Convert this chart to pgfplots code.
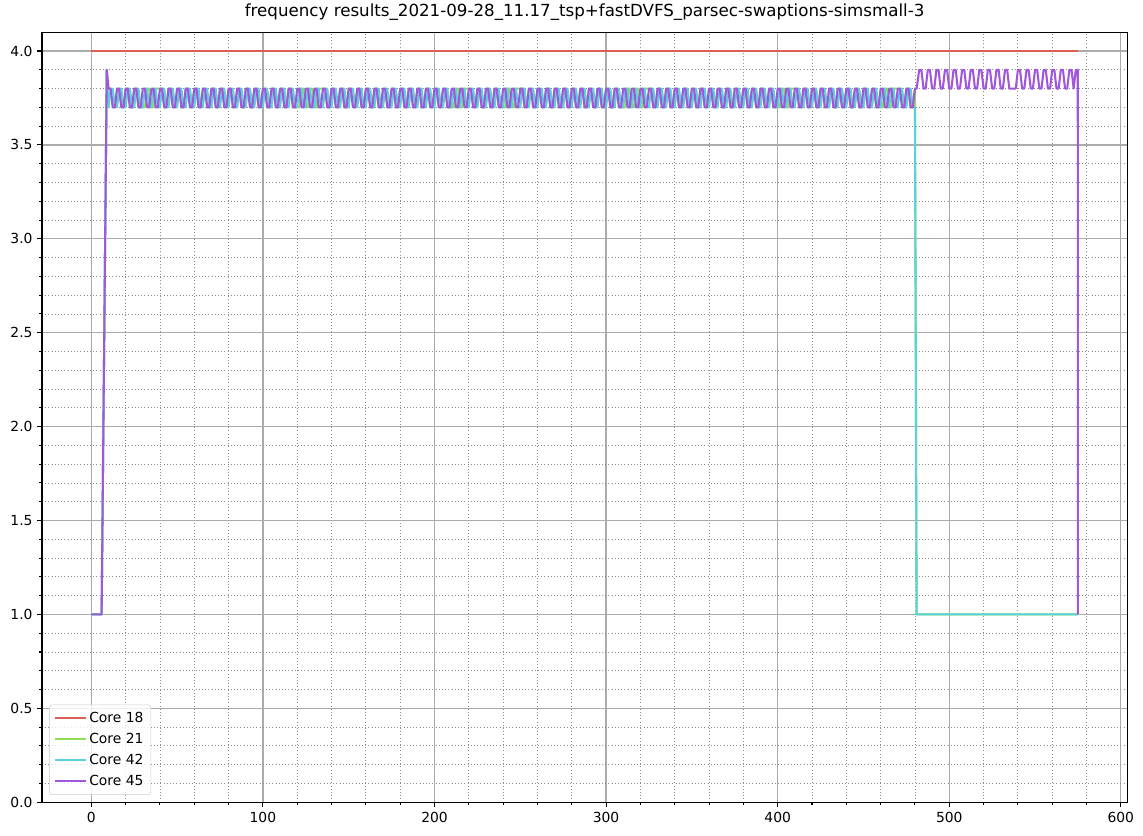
\documentclass[border=0pt]{standalone}
\usepackage{pgfplots}
\pgfplotsset{compat=1.18}
\usepackage{pgfplotstable}
\usepackage{fontspec}
\setmainfont{DejaVu Sans}
\definecolor{c18}{rgb}{0.859,0.373,0.341}
\definecolor{c21}{rgb}{0.573,0.859,0.341}
\definecolor{c42}{rgb}{0.341,0.827,0.859}
\definecolor{c45}{rgb}{0.631,0.341,0.859}
\pgfplotstableread{
x c21 c42 c45
0 1.0 1.0 1.0
6 1.0 1.0 1.0
9 3.9 3.9 3.9
10 3.8 3.7 3.8
11.25 3.8 3.8 3.8
12.5 3.7 3.8 3.7
13.75 3.7 3.7 3.7
15 3.8 3.7 3.8
16.25 3.8 3.8 3.8
17.5 3.7 3.8 3.7
18.75 3.7 3.7 3.7
20 3.8 3.7 3.8
21.25 3.8 3.8 3.8
22.5 3.7 3.8 3.7
23.75 3.7 3.7 3.7
25 3.8 3.7 3.8
26.25 3.8 3.8 3.8
27.5 3.7 3.8 3.7
28.75 3.7 3.7 3.7
30 3.7 3.7 3.8
31.25 3.7 3.8 3.8
32.5 3.8 3.8 3.7
33.75 3.8 3.7 3.7
35 3.7 3.7 3.8
36.25 3.7 3.8 3.8
37.5 3.8 3.8 3.7
38.75 3.8 3.7 3.7
40 3.8 3.7 3.8
41.25 3.8 3.8 3.8
42.5 3.7 3.8 3.7
43.75 3.7 3.7 3.7
45 3.8 3.7 3.8
46.25 3.8 3.8 3.8
47.5 3.7 3.8 3.7
48.75 3.7 3.7 3.7
50 3.8 3.7 3.8
51.25 3.8 3.8 3.8
52.5 3.7 3.8 3.7
53.75 3.7 3.7 3.7
55 3.8 3.7 3.8
56.25 3.8 3.8 3.8
57.5 3.7 3.8 3.7
58.75 3.7 3.7 3.7
60 3.8 3.7 3.8
61.25 3.8 3.8 3.8
62.5 3.7 3.8 3.7
63.75 3.7 3.7 3.7
65 3.8 3.7 3.8
66.25 3.8 3.8 3.8
67.5 3.7 3.8 3.7
68.75 3.7 3.7 3.7
70 3.8 3.7 3.8
71.25 3.8 3.8 3.8
72.5 3.7 3.8 3.7
73.75 3.7 3.7 3.7
75 3.8 3.7 3.8
76.25 3.8 3.8 3.8
77.5 3.7 3.8 3.7
78.75 3.7 3.7 3.7
80 3.8 3.7 3.8
81.25 3.8 3.8 3.8
82.5 3.7 3.8 3.7
83.75 3.7 3.7 3.7
85 3.8 3.7 3.8
86.25 3.8 3.8 3.8
87.5 3.7 3.8 3.7
88.75 3.7 3.7 3.7
90 3.8 3.7 3.8
91.25 3.8 3.8 3.8
92.5 3.7 3.8 3.7
93.75 3.7 3.7 3.7
95 3.8 3.7 3.8
96.25 3.8 3.8 3.8
97.5 3.7 3.8 3.7
98.75 3.7 3.7 3.7
100 3.8 3.7 3.8
101.25 3.8 3.8 3.8
102.5 3.7 3.8 3.7
103.75 3.7 3.7 3.7
105 3.8 3.7 3.8
106.25 3.8 3.8 3.8
107.5 3.7 3.8 3.7
108.75 3.7 3.7 3.7
110 3.8 3.7 3.8
111.25 3.8 3.8 3.8
112.5 3.7 3.8 3.7
113.75 3.7 3.7 3.7
115 3.8 3.7 3.8
116.25 3.8 3.8 3.8
117.5 3.7 3.8 3.7
118.75 3.7 3.7 3.7
120 3.7 3.7 3.8
121.25 3.7 3.8 3.8
122.5 3.8 3.8 3.7
123.75 3.8 3.7 3.7
125 3.7 3.7 3.8
126.25 3.7 3.8 3.8
127.5 3.8 3.8 3.7
128.75 3.8 3.7 3.7
130 3.7 3.7 3.8
131.25 3.7 3.8 3.8
132.5 3.8 3.8 3.7
133.75 3.8 3.7 3.7
135 3.8 3.7 3.8
136.25 3.8 3.8 3.8
137.5 3.7 3.8 3.7
138.75 3.7 3.7 3.7
140 3.8 3.7 3.8
141.25 3.8 3.8 3.8
142.5 3.7 3.8 3.7
143.75 3.7 3.7 3.7
145 3.8 3.7 3.8
146.25 3.8 3.8 3.8
147.5 3.7 3.8 3.7
148.75 3.7 3.7 3.7
150 3.8 3.7 3.8
151.25 3.8 3.8 3.8
152.5 3.7 3.8 3.7
153.75 3.7 3.7 3.7
155 3.8 3.7 3.8
156.25 3.8 3.8 3.8
157.5 3.7 3.8 3.7
158.75 3.7 3.7 3.7
160 3.8 3.7 3.8
161.25 3.8 3.8 3.8
162.5 3.7 3.8 3.7
163.75 3.7 3.7 3.7
165 3.8 3.7 3.8
166.25 3.8 3.8 3.8
167.5 3.7 3.8 3.7
168.75 3.7 3.7 3.7
170 3.8 3.7 3.8
171.25 3.8 3.8 3.8
172.5 3.7 3.8 3.7
173.75 3.7 3.7 3.7
175 3.8 3.7 3.8
176.25 3.8 3.8 3.8
177.5 3.7 3.8 3.7
178.75 3.7 3.7 3.7
180 3.8 3.7 3.8
181.25 3.8 3.8 3.8
182.5 3.7 3.8 3.7
183.75 3.7 3.7 3.7
185 3.8 3.7 3.8
186.25 3.8 3.8 3.8
187.5 3.7 3.8 3.7
188.75 3.7 3.7 3.7
190 3.8 3.7 3.8
191.25 3.8 3.8 3.8
192.5 3.7 3.8 3.7
193.75 3.7 3.7 3.7
195 3.8 3.7 3.8
196.25 3.8 3.8 3.8
197.5 3.7 3.8 3.7
198.75 3.7 3.7 3.7
200 3.8 3.7 3.8
201.25 3.8 3.8 3.8
202.5 3.7 3.8 3.7
203.75 3.7 3.7 3.7
205 3.8 3.7 3.8
206.25 3.8 3.8 3.8
207.5 3.7 3.8 3.7
208.75 3.7 3.7 3.7
210 3.7 3.7 3.8
211.25 3.7 3.8 3.8
212.5 3.8 3.8 3.7
213.75 3.8 3.7 3.7
215 3.7 3.7 3.8
216.25 3.7 3.8 3.8
217.5 3.8 3.8 3.7
218.75 3.8 3.7 3.7
220 3.8 3.7 3.8
221.25 3.8 3.8 3.8
222.5 3.7 3.8 3.7
223.75 3.7 3.7 3.7
225 3.8 3.7 3.8
226.25 3.8 3.8 3.8
227.5 3.7 3.8 3.7
228.75 3.7 3.7 3.7
230 3.8 3.7 3.8
231.25 3.8 3.8 3.8
232.5 3.7 3.8 3.7
233.75 3.7 3.7 3.7
235 3.8 3.7 3.8
236.25 3.8 3.8 3.8
237.5 3.7 3.8 3.7
238.75 3.7 3.7 3.7
240 3.7 3.7 3.8
241.25 3.7 3.8 3.8
242.5 3.8 3.8 3.7
243.75 3.8 3.7 3.7
245 3.7 3.7 3.8
246.25 3.7 3.8 3.8
247.5 3.8 3.8 3.7
248.75 3.8 3.7 3.7
250 3.8 3.7 3.8
251.25 3.8 3.8 3.8
252.5 3.7 3.8 3.7
253.75 3.7 3.7 3.7
255 3.8 3.7 3.8
256.25 3.8 3.8 3.8
257.5 3.7 3.8 3.7
258.75 3.7 3.7 3.7
260 3.8 3.7 3.8
261.25 3.8 3.8 3.8
262.5 3.7 3.8 3.7
263.75 3.7 3.7 3.7
265 3.8 3.7 3.8
266.25 3.8 3.8 3.8
267.5 3.7 3.8 3.7
268.75 3.7 3.7 3.7
270 3.8 3.7 3.8
271.25 3.8 3.8 3.8
272.5 3.7 3.8 3.7
273.75 3.7 3.7 3.7
275 3.8 3.7 3.8
276.25 3.8 3.8 3.8
277.5 3.7 3.8 3.7
278.75 3.7 3.7 3.7
280 3.8 3.7 3.8
281.25 3.8 3.8 3.8
282.5 3.7 3.8 3.7
283.75 3.7 3.7 3.7
285 3.8 3.7 3.8
286.25 3.8 3.8 3.8
287.5 3.7 3.8 3.7
288.75 3.7 3.7 3.7
290 3.8 3.7 3.8
291.25 3.8 3.8 3.8
292.5 3.7 3.8 3.7
293.75 3.7 3.7 3.7
295 3.8 3.7 3.8
296.25 3.8 3.8 3.8
297.5 3.7 3.8 3.7
298.75 3.7 3.7 3.7
300 3.8 3.7 3.8
301.25 3.8 3.8 3.8
302.5 3.7 3.8 3.7
303.75 3.7 3.7 3.7
305 3.8 3.7 3.8
306.25 3.8 3.8 3.8
307.5 3.7 3.8 3.7
308.75 3.7 3.7 3.7
310 3.7 3.7 3.8
311.25 3.7 3.8 3.8
312.5 3.8 3.8 3.7
313.75 3.8 3.7 3.7
315 3.7 3.7 3.8
316.25 3.7 3.8 3.8
317.5 3.8 3.8 3.7
318.75 3.8 3.7 3.7
320 3.7 3.7 3.8
321.25 3.7 3.8 3.8
322.5 3.8 3.8 3.7
323.75 3.8 3.7 3.7
325 3.8 3.7 3.8
326.25 3.8 3.8 3.8
327.5 3.7 3.8 3.7
328.75 3.7 3.7 3.7
330 3.8 3.7 3.8
331.25 3.8 3.8 3.8
332.5 3.7 3.8 3.7
333.75 3.7 3.7 3.7
335 3.8 3.7 3.8
336.25 3.8 3.8 3.8
337.5 3.7 3.8 3.7
338.75 3.7 3.7 3.7
340 3.8 3.7 3.8
341.25 3.8 3.8 3.8
342.5 3.7 3.8 3.7
343.75 3.7 3.7 3.7
345 3.8 3.7 3.8
346.25 3.8 3.8 3.8
347.5 3.7 3.8 3.7
348.75 3.7 3.7 3.7
350 3.8 3.7 3.8
351.25 3.8 3.8 3.8
352.5 3.7 3.8 3.7
353.75 3.7 3.7 3.7
355 3.8 3.7 3.8
356.25 3.8 3.8 3.8
357.5 3.7 3.8 3.7
358.75 3.7 3.7 3.7
360 3.8 3.7 3.8
361.25 3.8 3.8 3.8
362.5 3.7 3.8 3.7
363.75 3.7 3.7 3.7
365 3.8 3.7 3.8
366.25 3.8 3.8 3.8
367.5 3.7 3.8 3.7
368.75 3.7 3.7 3.7
370 3.8 3.7 3.8
371.25 3.8 3.8 3.8
372.5 3.7 3.8 3.7
373.75 3.7 3.7 3.7
375 3.8 3.7 3.8
376.25 3.8 3.8 3.8
377.5 3.7 3.8 3.7
378.75 3.7 3.7 3.7
380 3.8 3.7 3.8
381.25 3.8 3.8 3.8
382.5 3.7 3.8 3.7
383.75 3.7 3.7 3.7
385 3.8 3.7 3.8
386.25 3.8 3.8 3.8
387.5 3.7 3.8 3.7
388.75 3.7 3.7 3.7
390 3.8 3.7 3.8
391.25 3.8 3.8 3.8
392.5 3.7 3.8 3.7
393.75 3.7 3.7 3.7
395 3.8 3.7 3.8
396.25 3.8 3.8 3.8
397.5 3.7 3.8 3.7
398.75 3.7 3.7 3.7
400 3.7 3.7 3.8
401.25 3.7 3.8 3.8
402.5 3.8 3.8 3.7
403.75 3.8 3.7 3.7
405 3.7 3.7 3.8
406.25 3.7 3.8 3.8
407.5 3.8 3.8 3.7
408.75 3.8 3.7 3.7
410 3.8 3.7 3.8
411.25 3.8 3.8 3.8
412.5 3.7 3.8 3.7
413.75 3.7 3.7 3.7
415 3.8 3.7 3.8
416.25 3.8 3.8 3.8
417.5 3.7 3.8 3.7
418.75 3.7 3.7 3.7
420 3.8 3.7 3.8
421.25 3.8 3.8 3.8
422.5 3.7 3.8 3.7
423.75 3.7 3.7 3.7
425 3.8 3.7 3.8
426.25 3.8 3.8 3.8
427.5 3.7 3.8 3.7
428.75 3.7 3.7 3.7
430 3.8 3.7 3.8
431.25 3.8 3.8 3.8
432.5 3.7 3.8 3.7
433.75 3.7 3.7 3.7
435 3.8 3.7 3.8
436.25 3.8 3.8 3.8
437.5 3.7 3.8 3.7
438.75 3.7 3.7 3.7
440 3.8 3.7 3.8
441.25 3.8 3.8 3.8
442.5 3.7 3.8 3.7
443.75 3.7 3.7 3.7
445 3.8 3.7 3.8
446.25 3.8 3.8 3.8
447.5 3.7 3.8 3.7
448.75 3.7 3.7 3.7
450 3.8 3.7 3.8
451.25 3.8 3.8 3.8
452.5 3.7 3.8 3.7
453.75 3.7 3.7 3.7
455 3.8 3.7 3.8
456.25 3.8 3.8 3.8
457.5 3.7 3.8 3.7
458.75 3.7 3.7 3.7
460 3.7 3.7 3.8
461.25 3.7 3.8 3.8
462.5 3.8 3.8 3.7
463.75 3.8 3.7 3.7
465 3.7 3.7 3.8
466.25 3.7 3.8 3.8
467.5 3.8 3.8 3.7
468.75 3.8 3.7 3.7
470 3.8 3.7 3.8
471.25 3.8 3.8 3.8
472.5 3.7 3.8 3.7
473.75 3.7 3.7 3.7
475 3.8 3.7 3.8
476.25 3.8 3.8 3.8
477.5 3.7 3.8 3.7
478.75 3.7 3.7 3.7
480 3.8 3.7 3.8
481 1.0 1.0 3.8
482.5 1.0 1.0 3.9
483.75 1.0 1.0 3.9
485 1.0 1.0 3.8
486.25 1.0 1.0 3.8
487.5 1.0 1.0 3.9
488.75 1.0 1.0 3.9
490 1.0 1.0 3.8
491.25 1.0 1.0 3.8
492.5 1.0 1.0 3.9
493.75 1.0 1.0 3.9
495 1.0 1.0 3.8
496.25 1.0 1.0 3.8
497.5 1.0 1.0 3.9
498.75 1.0 1.0 3.9
500 1.0 1.0 3.8
501.25 1.0 1.0 3.8
502.5 1.0 1.0 3.9
503.75 1.0 1.0 3.9
505 1.0 1.0 3.8
506.25 1.0 1.0 3.8
507.5 1.0 1.0 3.9
508.75 1.0 1.0 3.9
510 1.0 1.0 3.8
511.25 1.0 1.0 3.8
512.5 1.0 1.0 3.9
513.75 1.0 1.0 3.9
515 1.0 1.0 3.8
516.25 1.0 1.0 3.8
517.5 1.0 1.0 3.9
518.75 1.0 1.0 3.9
520 1.0 1.0 3.8
521.25 1.0 1.0 3.8
522.5 1.0 1.0 3.9
523.75 1.0 1.0 3.9
525 1.0 1.0 3.8
526.25 1.0 1.0 3.8
527.5 1.0 1.0 3.9
528.75 1.0 1.0 3.9
530 1.0 1.0 3.8
531.25 1.0 1.0 3.8
532.5 1.0 1.0 3.9
533.75 1.0 1.0 3.9
535 1.0 1.0 3.8
536.25 1.0 1.0 3.8
537.5 1.0 1.0 3.8
538.75 1.0 1.0 3.8
540 1.0 1.0 3.9
541.25 1.0 1.0 3.9
542.5 1.0 1.0 3.8
543.75 1.0 1.0 3.8
545 1.0 1.0 3.9
546.25 1.0 1.0 3.9
547.5 1.0 1.0 3.8
548.75 1.0 1.0 3.8
550 1.0 1.0 3.9
551.25 1.0 1.0 3.9
552.5 1.0 1.0 3.8
553.75 1.0 1.0 3.8
555 1.0 1.0 3.9
556.25 1.0 1.0 3.9
557.5 1.0 1.0 3.8
558.75 1.0 1.0 3.8
560 1.0 1.0 3.9
561.25 1.0 1.0 3.9
562.5 1.0 1.0 3.8
563.75 1.0 1.0 3.8
565 1.0 1.0 3.9
566.25 1.0 1.0 3.9
567.5 1.0 1.0 3.8
568.75 1.0 1.0 3.8
570 1.0 1.0 3.9
571.25 1.0 1.0 3.9
572.5 1.0 1.0 3.8
573.75 1.0 1.0 3.9
574.9 1.0 1.0 3.9
575 1.0 1.0 1.0
}\freq
\begin{document}
\begin{tikzpicture}
\begin{axis}[
  scale only axis, width=814pt, height=577.5pt,
  xmin=-28.75, xmax=603.75, ymin=0, ymax=4.1,
  xtick={0,100,200,300,400,500,600}, minor x tick num=4,
  ytick={0,0.5,1.0,1.5,2.0,2.5,3.0,3.5,4.0}, minor y tick num=4,
  xtick pos=bottom, ytick pos=left,
  tick align=outside,
  major tick length=3.6pt, minor tick length=2.1pt,
  every tick/.style={black, line width=0.8pt},
  grid=both,
  major grid style={solid, color=black!33, line width=0.9pt},
  minor grid style={dotted, color=black!45, line width=0.6pt},
  axis line style={line width=0.83pt, black},
  /pgf/number format/assume math mode=true,
  ticklabel style={font=\fontsize{10.4}{12}\selectfont},
  yticklabel style={/pgf/number format/.cd, fixed, fixed zerofill, precision=1},
  xticklabel style={/pgf/number format/.cd, fixed, precision=0},
  scaled y ticks=false,
  title={frequency results\_2021-09-28\_11.17\_tsp+fastDVFS\_parsec-swaptions-simsmall-3},
  title style={font=\fontsize{12.5}{14}\selectfont, yshift=-1pt},
  legend cell align=left,
  legend style={at={(0.0067,0.0095)}, anchor=south west, draw=black!20, rounded corners=2pt,
    font=\fontsize{10.4}{12}\selectfont, row sep=2.5pt, inner sep=3.5pt, fill=white, fill opacity=0.8, text opacity=1},
  legend image code/.code={\draw[#1, line width=1.56pt] (0cm,0cm) -- (0.8cm,0cm);},
  clip=true,
]
\addplot[c18, line width=1.56pt] coordinates {(0,4.0) (575,4.0)};
\addlegendentry{Core 18}
\addplot[c21, line width=1.56pt, line join=round] table[x=x, y=c21] {\freq};
\addlegendentry{Core 21}
\addplot[c42, line width=1.56pt, line join=round] table[x=x, y=c42] {\freq};
\addlegendentry{Core 42}
\addplot[c45, line width=1.56pt, line join=round] table[x=x, y=c45] {\freq};
\addlegendentry{Core 45}
\node[anchor=base west, inner sep=0pt, xshift=0.8pt, yshift=4pt, font=\fontsize{10.4}{12}\selectfont] at (rel axis cs:0,1) {1e9};
\coordinate (sw) at (rel axis cs:0,0);
\coordinate (ne) at (rel axis cs:1,1);
\end{axis}
\pgfresetboundingbox
\useasboundingbox ([shift={(-31.5pt,-25.3pt)}]sw) rectangle ([shift={(11.8pt,24.2pt)}]ne);
\end{tikzpicture}
\end{document}
